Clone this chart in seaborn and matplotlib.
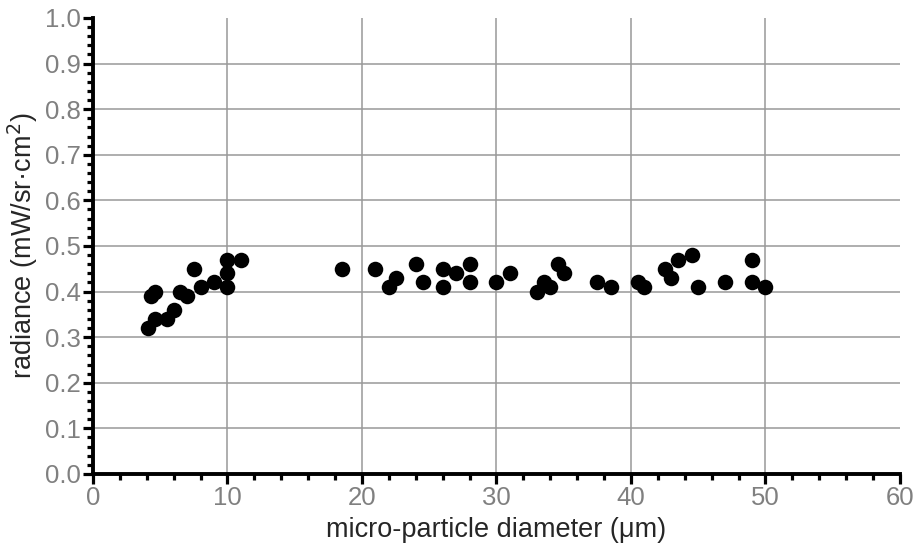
import matplotlib
matplotlib.use("Agg")
import matplotlib.pyplot as plt
import matplotlib.ticker as mticker
import pandas as pd
import seaborn as sns

# micro-particle diameter (um) and radiance (mW/sr cm^2)
diameter = [4.1, 4.3, 4.6, 4.6, 5.5, 6.0, 6.5, 7.0, 7.5, 8.0, 9.0, 10.0, 10.0, 10.0, 11.0,
            18.5, 21.0, 22.0, 22.5, 24.0, 24.5, 26.0, 26.0, 27.0, 28.0, 28.0, 30.0, 31.0,
            33.0, 33.5, 34.0, 34.6, 35.0, 37.5, 38.5, 40.5, 41.0, 42.5, 43.0, 43.5, 44.5,
            45.0, 47.0, 49.0, 49.0, 50.0]
radiance = [0.32, 0.39, 0.40, 0.34, 0.34, 0.36, 0.40, 0.39, 0.45, 0.41, 0.42, 0.41, 0.44, 0.47, 0.47,
            0.45, 0.45, 0.41, 0.43, 0.46, 0.42, 0.45, 0.41, 0.44, 0.46, 0.42, 0.42, 0.44,
            0.40, 0.42, 0.41, 0.46, 0.44, 0.42, 0.41, 0.42, 0.41, 0.45, 0.43, 0.47, 0.48,
            0.41, 0.42, 0.47, 0.42, 0.41]

df = pd.DataFrame({"d": diameter, "r": radiance})

sns.set_style("white")
plt.rcParams['font.family'] = ['Liberation Sans', 'DejaVu Sans']

fig = plt.figure(figsize=(9.19, 5.53), dpi=100)
ax = fig.add_axes([0.1012, 0.1429, 0.8781, 0.8246])

sns.scatterplot(data=df, x="d", y="r", ax=ax, color="black", s=125,
                edgecolor="black", linewidth=0, zorder=3, clip_on=False)

ax.set_xlim(0, 60)
ax.set_ylim(0, 1.0)
ax.xaxis.set_major_locator(mticker.MultipleLocator(10))
ax.xaxis.set_minor_locator(mticker.MultipleLocator(2))
ax.yaxis.set_major_locator(mticker.MultipleLocator(0.1))
ax.yaxis.set_minor_locator(mticker.MultipleLocator(0.02))
ax.yaxis.set_major_formatter(mticker.FormatStrFormatter('%.1f'))

ax.grid(True, which="major", color="#999999", linewidth=1.1)
ax.set_axisbelow(True)
# no grid lines along the far edges
for gl, v in zip(ax.xaxis.get_gridlines(), ax.get_xticks()):
    if v <= 0 or v >= 60:
        gl.set_visible(False)
for gl, v in zip(ax.yaxis.get_gridlines(), ax.get_yticks()):
    if v <= 0 or v >= 1.0:
        gl.set_visible(False)

for axis in ['top', 'right']:
    ax.spines[axis].set_visible(False)
for axis in ['left', 'bottom']:
    ax.spines[axis].set_linewidth(2.8)
    ax.spines[axis].set_color("black")
    ax.spines[axis].set_capstyle("projecting")

ax.tick_params(which="major", direction="out", length=7.5, width=2.3, color="black",
               labelsize=18.5, labelcolor="#808080", pad=1.5, left=True, bottom=True)
ax.tick_params(which="minor", direction="out", length=4.5, width=2.3, color="black",
               left=True, bottom=True)

ax.set_xlabel("micro-particle diameter (μm)", fontsize=19.5, labelpad=5)
ax.set_ylabel("radiance (mW/sr·cm$^{2}$)", fontsize=19.5, labelpad=3)

fig.savefig("out.png", dpi=100)
